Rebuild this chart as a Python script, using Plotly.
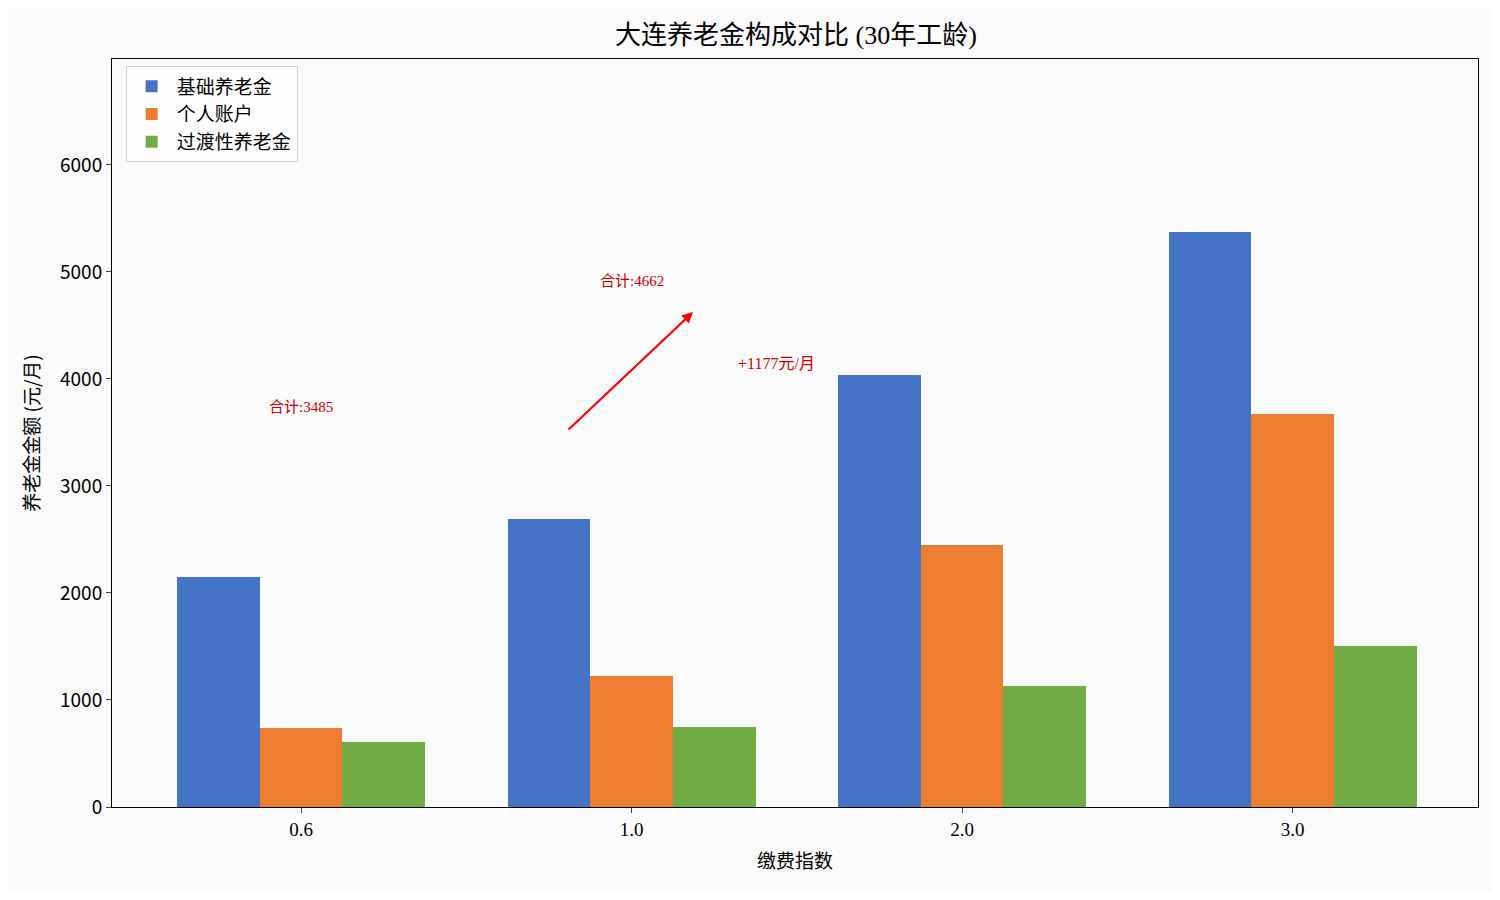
import plotly.graph_objects as go

categories = ["0.6", "1.0", "2.0", "3.0"]
basic = [2145, 2690, 4037, 5374]
personal = [735, 1220, 2449, 3673]
transition = [605, 752, 1131, 1505]
series_names = ["基础养老金", "个人账户", "过渡性养老金"]
colors = ["#4472c4", "#ed7d31", "#70ad47"]
totals = [b + p + t for b, p, t in zip(basic, personal, transition)]

font = "Liberation Serif, Noto Sans CJK SC"
pos = list(range(len(categories)))
width = 0.25

fig = go.Figure()
for i, (name, vals) in enumerate(zip(series_names, [basic, personal, transition])):
    fig.add_trace(go.Bar(
        x=[p + (i - 1) * width for p in pos], y=vals, width=width,
        name=name, marker_color=colors[i], marker_line_width=0))

# total labels
fig.add_annotation(x=0, y=totals[0] + 250, text="合计:%d" % totals[0], showarrow=False,
                   font=dict(color="#cc0000", size=15, family=font))
fig.add_annotation(x=1, y=totals[1] + 250, text="合计:%d" % totals[1], showarrow=False,
                   font=dict(color="#cc0000", size=15, family=font))
# arrow
fig.add_annotation(x=1.186, y=totals[1] - 36, ax=0.805, ay=totals[0] + 29,
                   xref="x", yref="y", axref="x", ayref="y", text="",
                   showarrow=True, arrowhead=2, arrowwidth=2.2, arrowcolor="red")
fig.add_annotation(x=1.44, y=4140, text="+%d元/月" % (totals[1] - totals[0]), showarrow=False,
                   font=dict(color="#cc0000", size=16, family=font))

fig.update_layout(
    width=1484, height=884,
    paper_bgcolor="#fafafa", plot_bgcolor="#fafafa",
    margin=dict(l=104, r=14, t=51, b=85),
    title=dict(text="大连养老金构成对比 (30年工龄)", x=0.531, y=0.97, xanchor="center", yanchor="middle",
               font=dict(size=26, family=font, color="black")),
    barmode="overlay", bargap=0,
    legend=dict(x=0.01, y=0.99, xanchor="left", yanchor="top",
                bordercolor="#cccccc", borderwidth=1, bgcolor="rgba(255,255,255,0.8)",
                itemwidth=40, tracegroupgap=0,
                font=dict(size=19, family="Noto Sans CJK SC", color="black")),
    showlegend=True,
)
fig.update_xaxes(range=[-0.572, 3.561], tickvals=pos, ticktext=categories,
                 tickfont=dict(size=19, family=font, color="black"),
                 title=dict(text="缴费指数", font=dict(size=19, family="Noto Sans CJK SC", color="black")),
                 showline=True, linecolor="black", mirror=True, showgrid=False,
                 ticks="outside", ticklen=5, zeroline=False)
fig.update_yaxes(range=[0, 6990], tickvals=[0, 1000, 2000, 3000, 4000, 5000, 6000],
                 tickfont=dict(size=19, family="Noto Sans CJK SC", color="black"),
                 title=dict(text="养老金金额 (元/月)", font=dict(size=19, family="Noto Sans CJK SC", color="black")),
                 showline=True, linecolor="black", mirror=True, showgrid=False,
                 ticks="outside", ticklen=5, zeroline=False)

fig.write_html("out.html")
